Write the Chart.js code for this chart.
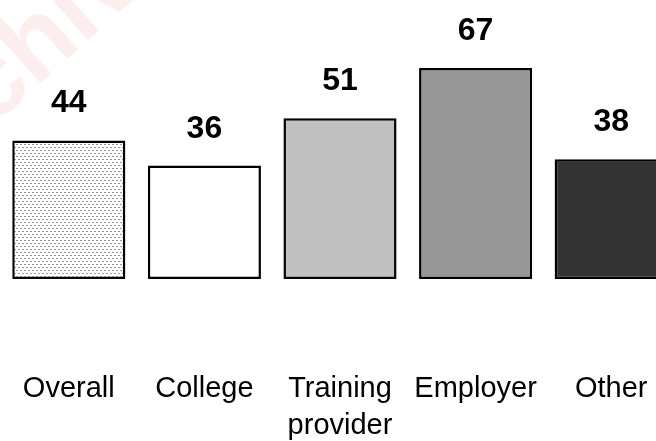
<!DOCTYPE html>
<html>
<head>
<meta charset="utf-8">
<script src="https://cdn.jsdelivr.net/npm/chart.js@4/dist/chart.umd.min.js"></script>
<style>
  html, body { margin: 0; padding: 0; background: #fff; overflow: hidden; }
  #wrap { position: relative; width: 680px; height: 441px; }
</style>
</head>
<body>
<div id="wrap"><canvas id="myChart"></canvas></div>
<script>
// data
const categories = ["Overall", "College", ["Training", "provider"], "Employer", "Other"];
const values = [44, 36, 51, 67, 38];

// dotted fill for the "Overall" bar
function dotPattern() {
  const c = document.createElement("canvas");
  c.width = 4;
  c.height = 6;
  const g = c.getContext("2d");
  g.fillStyle = "#ffffff";
  g.fillRect(0, 0, 4, 6);
  g.fillStyle = "#9a9a9a";
  g.fillRect(0, 0, 2, 1);
  g.fillRect(2, 3, 2, 1);
  return g.createPattern(c, "repeat");
}

const barFills = [dotPattern(), "#ffffff", "#c0c0c0", "#969696", "#333333"];

// faint watermark behind the bars
const watermark = {
  id: "watermark",
  beforeDatasetsDraw(chart) {
    const ctx = chart.ctx;
    ctx.save();
    ctx.translate(-95, 205);
    ctx.rotate(-42 * Math.PI / 180);
    ctx.font = 'bold 105px "Liberation Sans", Arial, sans-serif';
    ctx.fillStyle = "rgba(225, 40, 40, 0.08)";
    ctx.textBaseline = "alphabetic";
    ctx.fillText("Archived", 0, 0);
    ctx.restore();
  },
};

// numbers above each bar
const valueLabels = {
  id: "valueLabels",
  afterDatasetsDraw(chart) {
    const ctx = chart.ctx;
    const meta = chart.getDatasetMeta(0);
    ctx.save();
    ctx.font = 'bold 32px "Liberation Sans", Arial, sans-serif';
    ctx.fillStyle = "#000";
    ctx.textAlign = "center";
    ctx.textBaseline = "alphabetic";
    meta.data.forEach((bar, i) => {
      ctx.fillText(String(values[i]), bar.x, bar.y - 28);
    });
    ctx.restore();
  },
};

const ctx = document.getElementById("myChart").getContext("2d");

new Chart(ctx, {
  type: "bar",
  data: {
    labels: categories,
    datasets: [
      {
        data: values,
        backgroundColor: barFills,
        borderColor: "#000000",
        borderWidth: 2.5,
        borderSkipped: false,
        barPercentage: 0.834,
        categoryPercentage: 1,
      },
    ],
  },
  options: {
    responsive: true,
    maintainAspectRatio: false,
    animation: false,
    layout: { padding: { top: 27, left: 1, right: 1, bottom: 0 } },
    plugins: {
      legend: { display: false },
      tooltip: { enabled: false },
    },
    scales: {
      x: {
        grid: { display: false, drawTicks: false },
        border: { display: false },
        ticks: {
          color: "#000",
          font: { family: '"Liberation Sans", Arial, sans-serif', size: 29, lineHeight: 1.28 },
          padding: 91,
          maxRotation: 0,
          autoSkip: false,
        },
        afterFit: (scale) => {
          scale.height = 162;
          scale.paddingLeft = 0;
          scale.paddingRight = 0;
        },
      },
      y: {
        display: false,
        min: 0,
        max: 80,
      },
    },
  },
  plugins: [watermark, valueLabels],
});
</script>
</body>
</html>
